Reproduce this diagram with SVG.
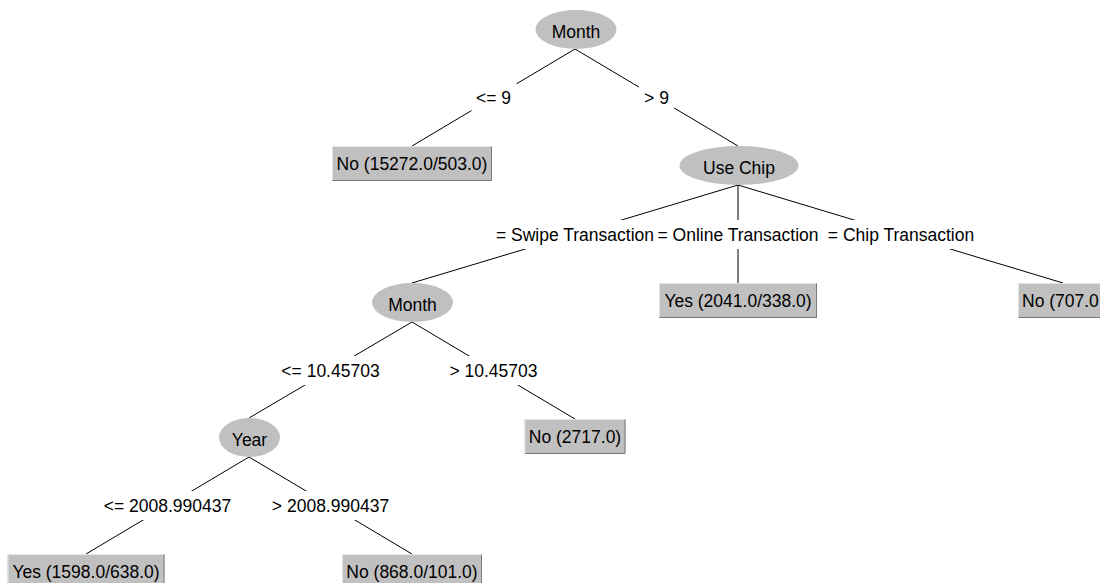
<svg xmlns="http://www.w3.org/2000/svg" width="1100" height="583" viewBox="0 0 1100 583">
<style>
text{font-family:"Liberation Sans",Arial,sans-serif;font-size:17.5px;fill:#000;text-anchor:middle}
.ell{fill:#c0c0c0;stroke:none}
.box{fill:#c0c0c0;stroke:none}
.hi{fill:none;stroke:#e4e4e4;stroke-width:1}
.lo{fill:none;stroke:#7a7a7a;stroke-width:1}
.edge{stroke:#000;stroke-width:1;fill:none}
.lbg{fill:#fff;stroke:none}
</style>
<rect width="1100" height="583" fill="#fff"/>
<g id="connectors">
  <line class="edge" x1="575" y1="49" x2="412" y2="146"/>
  <line class="edge" x1="575" y1="49" x2="738" y2="146"/>
  <line class="edge" x1="738" y1="185" x2="412" y2="283"/>
  <line class="edge" x1="738" y1="185" x2="738" y2="283"/>
  <line class="edge" x1="738" y1="185" x2="1063" y2="283"/>
  <line class="edge" x1="412" y1="322" x2="249" y2="418"/>
  <line class="edge" x1="412" y1="322" x2="575" y2="419"/>
  <line class="edge" x1="249" y1="457" x2="86" y2="554"/>
  <line class="edge" x1="249" y1="457" x2="412" y2="554"/>
  <rect class="lbg" x="471.5" y="83" width="45" height="29"/>
  <rect class="lbg" x="639" y="83" width="35" height="29"/>
  <rect class="lbg" x="490.5" y="220" width="169" height="29"/>
  <rect class="lbg" x="652" y="220" width="172" height="29"/>
  <rect class="lbg" x="822" y="220" width="158" height="29"/>
  <rect class="lbg" x="276.5" y="356" width="108" height="29"/>
  <rect class="lbg" x="444.5" y="356" width="98" height="29"/>
  <rect class="lbg" x="98.5" y="491" width="138" height="29"/>
  <rect class="lbg" x="266.5" y="491" width="128" height="29"/>
  <text x="493.5" y="104">&lt;= 9</text>
  <text x="656.5" y="104">&gt; 9</text>
  <text x="575" y="241">= Swipe Transaction</text>
  <text x="738" y="241">= Online Transaction</text>
  <text x="901" y="241">= Chip Transaction</text>
  <text x="330.5" y="377">&lt;= 10.45703</text>
  <text x="493.5" y="377">&gt; 10.45703</text>
  <text x="167.5" y="512">&lt;= 2008.990437</text>
  <text x="330.5" y="512">&gt; 2008.990437</text>
</g>
<g id="node-month-root">
  <ellipse class="ell" cx="576" cy="29.5" rx="40.5" ry="19.5"/>
  <text x="576" y="37.5">Month</text>
</g>
<g id="leaf-no-15272">
  <rect class="box" x="332" y="146" width="160" height="35"/>
  <path class="hi" d="M332.5,180.5 V146.5 H491.5"/>
  <path class="lo" d="M491.5,146.5 V180.5 H332.5"/>
  <text x="412" y="170">No (15272.0/503.0)</text>
</g>
<g id="node-use-chip">
  <ellipse class="ell" cx="739" cy="165.5" rx="59.5" ry="19.5"/>
  <text x="739" y="173.5">Use Chip</text>
</g>
<g id="node-month-2">
  <ellipse class="ell" cx="412.5" cy="302.5" rx="40.5" ry="19.5"/>
  <text x="412.5" y="310.5">Month</text>
</g>
<g id="leaf-yes-2041">
  <rect class="box" x="659" y="283" width="158" height="35"/>
  <path class="hi" d="M659.5,317.5 V283.5 H816.5"/>
  <path class="lo" d="M816.5,283.5 V317.5 H659.5"/>
  <text x="738" y="307">Yes (2041.0/338.0)</text>
</g>
<g id="leaf-no-707">
  <rect class="box" x="1018" y="283" width="91" height="35"/>
  <path class="hi" d="M1018.5,317.5 V283.5 H1108.5"/>
  <path class="lo" d="M1108.5,283.5 V317.5 H1018.5"/>
  <text x="1022" y="307" style="text-anchor:start">No (707.0</text>
</g>
<g id="node-year">
  <ellipse class="ell" cx="249.5" cy="437.5" rx="30.5" ry="19.5"/>
  <text x="249.5" y="445.5">Year</text>
</g>
<g id="leaf-no-2717">
  <rect class="box" x="524.5" y="419" width="101" height="35"/>
  <path class="hi" d="M525,453.5 V419.5 H625"/>
  <path class="lo" d="M625,419.5 V453.5 H525"/>
  <text x="575" y="443">No (2717.0)</text>
</g>
<g id="leaf-yes-1598">
  <rect class="box" x="7.5" y="554" width="157" height="35"/>
  <path class="hi" d="M8,588.5 V554.5 H164"/>
  <path class="lo" d="M164,554.5 V588.5 H8"/>
  <text x="86" y="578">Yes (1598.0/638.0)</text>
</g>
<g id="leaf-no-868">
  <rect class="box" x="342" y="554" width="140" height="35"/>
  <path class="hi" d="M342.5,588.5 V554.5 H481.5"/>
  <path class="lo" d="M481.5,554.5 V588.5 H342.5"/>
  <text x="412" y="578">No (868.0/101.0)</text>
</g>
</svg>
